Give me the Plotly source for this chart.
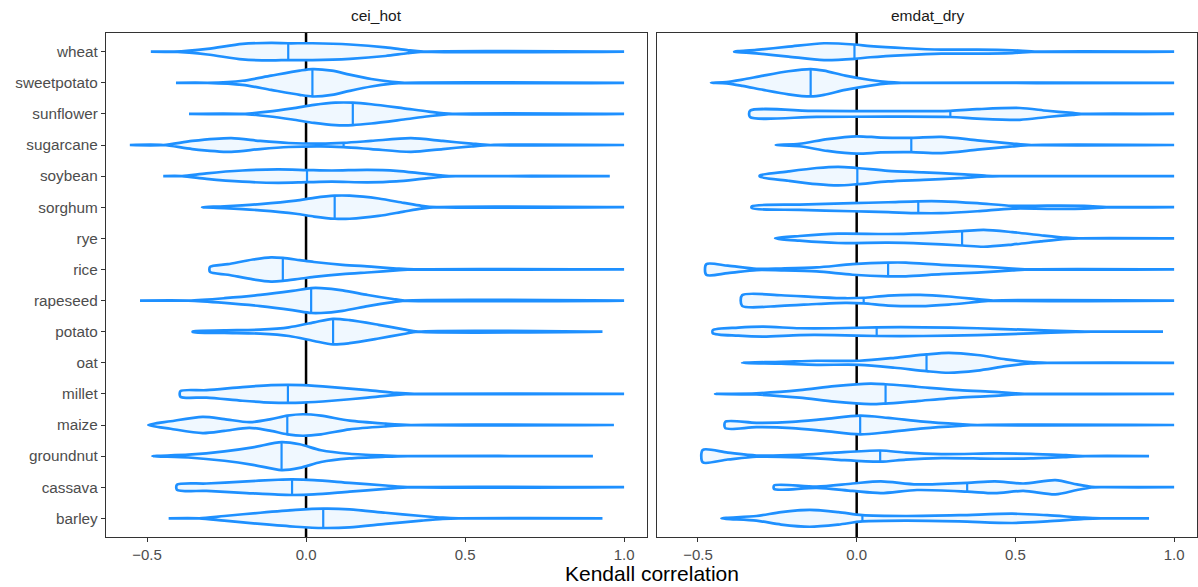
import numpy as np
import plotly.graph_objects as go

CROPS = ["wheat", "sweetpotato", "sunflower", "sugarcane", "soybean", "sorghum", "rye",
         "rice", "rapeseed", "potato", "oat", "millet", "maize", "groundnut", "cassava", "barley"]
FACETS = ["cei_hot", "emdat_dry"]
X_TICKS = [-0.5, 0.0, 0.5, 1.0]
X_TICK_TEXT = ["\u22120.5", "0.0", "0.5", "1.0"]

# ---------------- cei_hot ----------------
HOT_MIN = {"wheat": -0.488, "sweetpotato": -0.409, "sunflower": -0.368, "sugarcane": -0.554,
           "soybean": -0.449, "sorghum": -0.327, "rice": -0.302, "rapeseed": -0.522,
           "potato": -0.356, "millet": -0.395, "maize": -0.496, "groundnut": -0.483,
           "cassava": -0.406, "barley": -0.432}
HOT_MAX = {"wheat": 1.0, "sweetpotato": 1.0, "sunflower": 1.0, "sugarcane": 1.0,
           "soybean": 0.955, "sorghum": 1.0, "rice": 1.0, "rapeseed": 1.0,
           "potato": 0.932, "millet": 1.0, "maize": 0.968, "groundnut": 0.902,
           "cassava": 1.0, "barley": 0.932}
HOT_MEDIAN = {"wheat": -0.056, "sweetpotato": 0.020, "sunflower": 0.147, "sugarcane": 0.118,
              "soybean": 0.003, "sorghum": 0.090, "rice": -0.073, "rapeseed": 0.016,
              "potato": 0.085, "millet": -0.057, "maize": -0.059, "groundnut": -0.077,
              "cassava": -0.044, "barley": 0.054}
# width of the density at the minimum (blunt ends)
HOT_END_W = {"rice": 0.08, "millet": 0.09, "cassava": 0.08, "potato": 0.01}
# density profile (x, half-width in category units)
HOT_PROFILE = {
    "wheat": [(-0.415, 0.0), (-0.31, 0.09), (-0.2, 0.25), (-0.11, 0.28), (-0.056, 0.27),
              (0.02, 0.27), (0.138, 0.23), (0.25, 0.14), (0.318, 0.05), (0.37, 0.0)],
    "sweetpotato": [(-0.31, 0.0), (-0.2, 0.065), (-0.11, 0.23), (-0.02, 0.39), (0.02, 0.44),
                    (0.081, 0.39), (0.137, 0.26), (0.205, 0.12), (0.27, 0.03), (0.31, 0.0)],
    "sunflower": [(-0.2, 0.0), (-0.12, 0.075), (-0.043, 0.18), (0.025, 0.29), (0.092, 0.36),
                  (0.147, 0.36), (0.205, 0.31), (0.307, 0.18), (0.386, 0.075), (0.46, 0.0)],
    "sugarcane": [(-0.449, 0.0), (-0.358, 0.13), (-0.235, 0.22), (-0.144, 0.13), (-0.054, 0.065),
                  (0.047, 0.045), (0.118, 0.07), (0.205, 0.13), (0.33, 0.22), (0.43, 0.13),
                  (0.52, 0.045), (0.58, 0.0)],
    "soybean": [(-0.39, 0.0), (-0.313, 0.09), (-0.2, 0.18), (-0.088, 0.215), (0.003, 0.195),
                (0.081, 0.18), (0.194, 0.2), (0.284, 0.17), (0.363, 0.09), (0.43, 0.02), (0.47, 0.0)],
    "sorghum": [(-0.257, 0.03), (-0.144, 0.1), (-0.032, 0.21), (0.025, 0.30), (0.09, 0.37),
                (0.137, 0.37), (0.228, 0.28), (0.307, 0.14), (0.363, 0.045), (0.41, 0.0)],
    "rice": [(-0.246, 0.17), (-0.167, 0.32), (-0.11, 0.39), (-0.073, 0.37), (-0.02, 0.30),
             (0.025, 0.24), (0.115, 0.15), (0.205, 0.09), (0.284, 0.03), (0.34, 0.0)],
    "rapeseed": [(-0.37, 0.0), (-0.257, 0.075), (-0.144, 0.18), (-0.043, 0.31), (0.016, 0.40),
                 (0.047, 0.40), (0.115, 0.33), (0.194, 0.18), (0.273, 0.05), (0.31, 0.0)],
    "potato": [(-0.257, 0.04), (-0.144, 0.065), (-0.054, 0.14), (0.025, 0.30), (0.085, 0.41),
               (0.137, 0.37), (0.228, 0.22), (0.307, 0.075), (0.352, 0.0)],
    "millet": [(-0.313, 0.12), (-0.2, 0.22), (-0.11, 0.28), (-0.057, 0.29), (-0.01, 0.28),
               (0.081, 0.22), (0.194, 0.12), (0.284, 0.03), (0.34, 0.0)],
    "maize": [(-0.426, 0.12), (-0.325, 0.26), (-0.257, 0.19), (-0.178, 0.09), (-0.11, 0.19),
              (-0.059, 0.30), (-0.01, 0.345), (0.047, 0.30), (0.137, 0.14), (0.25, 0.045), (0.33, 0.0)],
    "groundnut": [(-0.37, 0.045), (-0.257, 0.15), (-0.167, 0.28), (-0.077, 0.45), (-0.02, 0.38),
                  (0.047, 0.19), (0.137, 0.075), (0.25, 0.02), (0.32, 0.0)],
    "cassava": [(-0.313, 0.12), (-0.2, 0.18), (-0.088, 0.24), (-0.044, 0.25), (0.025, 0.23),
                (0.137, 0.14), (0.25, 0.055), (0.33, 0.0)],
    "barley": [(-0.336, 0.0), (-0.257, 0.075), (-0.144, 0.18), (-0.032, 0.27), (0.054, 0.31),
               (0.137, 0.29), (0.25, 0.18), (0.363, 0.075), (0.43, 0.02), (0.48, 0.0)],
}

# ---------------- emdat_dry ----------------
DRY_MIN = {"wheat": -0.386, "sweetpotato": -0.459, "sunflower": -0.336, "sugarcane": -0.255,
           "soybean": -0.305, "sorghum": -0.330, "rye": -0.257, "rice": -0.474,
           "rapeseed": -0.361, "potato": -0.453, "oat": -0.361, "millet": -0.446,
           "maize": -0.414, "groundnut": -0.485, "cassava": -0.260, "barley": -0.426}
DRY_MAX = {"wheat": 1.0, "sweetpotato": 1.0, "sunflower": 1.0, "sugarcane": 1.0,
           "soybean": 1.0, "sorghum": 1.0, "rye": 1.0, "rice": 1.0,
           "rapeseed": 1.0, "potato": 0.965, "oat": 1.0, "millet": 1.0,
           "maize": 1.0, "groundnut": 0.921, "cassava": 1.0, "barley": 0.921}
DRY_MEDIAN = {"wheat": -0.007, "sweetpotato": -0.145, "sunflower": 0.295, "sugarcane": 0.172,
              "soybean": 0.002, "sorghum": 0.194, "rye": 0.332, "rice": 0.099,
              "rapeseed": 0.022, "potato": 0.063, "oat": 0.220, "millet": 0.091,
              "maize": 0.011, "groundnut": 0.074, "cassava": 0.348, "barley": 0.018}
DRY_END_W = {"sunflower": 0.1, "soybean": 0.02, "sorghum": 0.03, "rice": 0.17, "rapeseed": 0.17,
             "potato": 0.05, "maize": 0.1, "groundnut": 0.2, "cassava": 0.06}
DRY_PROFILE = {
    "wheat": [(-0.316, 0.055), (-0.215, 0.16), (-0.103, 0.27), (-0.007, 0.23), (0.043, 0.18),
              (0.155, 0.11), (0.267, 0.065), (0.379, 0.065), (0.49, 0.045), (0.57, 0.0)],
    "sweetpotato": [(-0.41, 0.02), (-0.36, 0.1), (-0.294, 0.23), (-0.215, 0.37), (-0.145, 0.44),
                    (-0.103, 0.39), (-0.036, 0.23), (0.043, 0.09), (0.1, 0.02), (0.14, 0.0)],
    "sunflower": [(-0.126, 0.095), (0.099, 0.09), (0.295, 0.1), (0.379, 0.15), (0.514, 0.19),
                  (0.60, 0.1), (0.68, 0.03), (0.72, 0.0)],
    "sugarcane": [(-0.18, 0.04), (-0.092, 0.19), (0.0, 0.28), (0.076, 0.24), (0.172, 0.23),
                  (0.267, 0.26), (0.38, 0.15), (0.49, 0.045), (0.55, 0.0)],
    "soybean": [(-0.215, 0.15), (-0.126, 0.26), (-0.058, 0.30), (0.002, 0.26), (0.099, 0.17),
                (0.21, 0.12), (0.323, 0.065), (0.41, 0.01), (0.45, 0.0)],
    "sorghum": [(-0.18, 0.085), (-0.013, 0.13), (0.099, 0.16), (0.194, 0.19), (0.267, 0.19),
                (0.38, 0.13), (0.49, 0.045), (0.60, 0.05), (0.716, 0.045), (0.806, 0.0)],
    "rye": [(-0.18, 0.075), (-0.058, 0.15), (0.099, 0.14), (0.21, 0.17), (0.332, 0.23),
            (0.40, 0.27), (0.49, 0.2), (0.58, 0.1), (0.66, 0.02), (0.7, 0.0)],
    "rice": [(-0.406, 0.12), (-0.316, 0.02), (-0.238, 0.03), (-0.126, 0.065), (-0.013, 0.17),
             (0.099, 0.22), (0.155, 0.22), (0.267, 0.15), (0.38, 0.1), (0.49, 0.03), (0.55, 0.0)],
    "rapeseed": [(-0.238, 0.17), (-0.126, 0.11), (-0.036, 0.075), (0.022, 0.09), (0.099, 0.16),
                 (0.2, 0.18), (0.29, 0.13), (0.38, 0.045), (0.43, 0.0)],
    "potato": [(-0.373, 0.13), (-0.294, 0.16), (-0.18, 0.11), (-0.07, 0.11), (0.063, 0.14),
               (0.21, 0.14), (0.38, 0.11), (0.548, 0.055), (0.69, 0.01), (0.74, 0.0)],
    "oat": [(-0.238, 0.03), (-0.126, 0.065), (0.009, 0.065), (0.12, 0.16), (0.22, 0.27),
            (0.29, 0.32), (0.38, 0.25), (0.47, 0.11), (0.548, 0.02), (0.6, 0.0)],
    "millet": [(-0.316, 0.02), (-0.18, 0.12), (-0.07, 0.25), (0.043, 0.33), (0.091, 0.31),
               (0.19, 0.23), (0.323, 0.12), (0.435, 0.065), (0.5, 0.02), (0.55, 0.0)],
    "maize": [(-0.316, 0.07), (-0.204, 0.1), (-0.103, 0.19), (0.011, 0.30), (0.099, 0.23),
              (0.21, 0.11), (0.323, 0.03), (0.38, 0.0)],
    "groundnut": [(-0.406, 0.11), (-0.316, 0.02), (-0.18, 0.04), (-0.07, 0.11), (0.074, 0.18),
                  (0.155, 0.11), (0.267, 0.065), (0.435, 0.085), (0.548, 0.075), (0.66, 0.03),
                  (0.72, 0.0)],
    "cassava": [(-0.126, 0.02), (-0.013, 0.12), (0.076, 0.19), (0.19, 0.09), (0.348, 0.14),
                (0.435, 0.19), (0.525, 0.12), (0.626, 0.23), (0.694, 0.09), (0.74, 0.01), (0.78, 0.0)],
    "barley": [(-0.316, 0.075), (-0.238, 0.2), (-0.148, 0.27), (-0.058, 0.2), (0.018, 0.1),
               (0.155, 0.075), (0.323, 0.1), (0.49, 0.15), (0.60, 0.1), (0.716, 0.02), (0.77, 0.0)],
}

LINE_COLOR = "#1E90FF"
FILL_COLOR = "#F0F8FF"
FONT = "Liberation Sans, Arial, Helvetica, sans-serif"

fig = go.Figure()
n = len(CROPS)


def add_violins(mins, maxs, medians, endw, profiles, xa, ya):
    for i, crop in enumerate(CROPS):
        if crop not in profiles:
            continue
        pos = n - i
        xs = [mins[crop]] + [p[0] for p in profiles[crop]] + [maxs[crop]]
        ws = [endw.get(crop, 0.0)] + [p[1] for p in profiles[crop]] + [0.0]
        pts = [(x, pos + w) for x, w in zip(xs, ws)]
        pts += [(x, pos - w) for x, w in zip(xs[::-1], ws[::-1])]
        pts.append(pts[0])
        clean = [pts[0]]
        for p in pts[1:]:
            if abs(p[0] - clean[-1][0]) > 1e-9 or abs(p[1] - clean[-1][1]) > 1e-9:
                clean.append(p)
        fig.add_trace(go.Scatter(
            x=[p[0] for p in clean], y=[p[1] for p in clean],
            mode="lines", fill="toself", fillcolor=FILL_COLOR,
            line=dict(color=LINE_COLOR, width=2.7, shape="spline", smoothing=0.8),
            xaxis=xa, yaxis=ya, showlegend=False, hoverinfo="skip"))
        med = medians[crop]
        kx = [p[0] for p in profiles[crop]]
        kw = [p[1] for p in profiles[crop]]
        mw = float(np.interp(med, kx, kw))
        fig.add_trace(go.Scatter(
            x=[med, med], y=[pos - mw, pos + mw], mode="lines",
            line=dict(color=LINE_COLOR, width=2.2),
            xaxis=xa, yaxis=ya, showlegend=False, hoverinfo="skip"))


add_violins(HOT_MIN, HOT_MAX, HOT_MEDIAN, HOT_END_W, HOT_PROFILE, "x", "y")
add_violins(DRY_MIN, DRY_MAX, DRY_MEDIAN, DRY_END_W, DRY_PROFILE, "x2", "y2")

W, H = 1198, 587
left_dom = [106 / W, 647 / W]
right_dom = [657 / W, 1197 / W]
y_dom = [(H - 537) / H, (H - 33) / H]
x_range = [-0.629, 1.072]
y_range = [0.4, n + 0.6]

axis_common = dict(showline=True, mirror=True, linecolor="#333333", linewidth=1.3,
                   showgrid=False, zeroline=False)
tick_font = dict(size=15, color="#4D4D4D", family=FONT)

fig.update_layout(
    width=W, height=H,
    margin=dict(l=0, r=0, t=0, b=0),
    paper_bgcolor="white", plot_bgcolor="white",
    font=dict(family=FONT),
    xaxis=dict(domain=left_dom, range=x_range, anchor="y", tickvals=X_TICKS,
               ticktext=X_TICK_TEXT, ticks="outside", ticklen=4, tickcolor="#333333",
               tickwidth=1.3, tickfont=tick_font, **axis_common),
    xaxis2=dict(domain=right_dom, range=x_range, anchor="y2", tickvals=X_TICKS,
                ticktext=X_TICK_TEXT, ticks="outside", ticklen=4, tickcolor="#333333",
                tickwidth=1.3, tickfont=tick_font, **axis_common),
    yaxis=dict(domain=y_dom, range=y_range, anchor="x",
               tickvals=[n - i for i in range(n)], ticktext=CROPS,
               ticks="outside", ticklen=4, tickcolor="#333333", tickwidth=1.3,
               tickfont=dict(size=15.3, color="#4D4D4D", family=FONT), **axis_common),
    yaxis2=dict(domain=y_dom, range=y_range, anchor="x2", showticklabels=False,
                ticks="", **axis_common),
)

for xr in ["x", "x2"]:
    fig.add_shape(type="line", xref=xr, yref=("y domain" if xr == "x" else "y2 domain"),
                  x0=0, x1=0, y0=0, y1=1, line=dict(color="black", width=2.5), layer="below")

for facet, dom in zip(FACETS, [left_dom, right_dom]):
    fig.add_annotation(text=facet, x=(dom[0] + dom[1]) / 2, y=(H - 15) / H,
                       xref="paper", yref="paper", showarrow=False,
                       xanchor="center", yanchor="middle",
                       font=dict(size=15.5, color="#1A1A1A", family=FONT))

fig.add_annotation(text="Kendall correlation", x=(106 + 1197) / 2 / W, y=(H - 573) / H,
                   xref="paper", yref="paper", showarrow=False,
                   xanchor="center", yanchor="middle",
                   font=dict(size=21, color="black", family=FONT))

fig.write_html("out.html")
